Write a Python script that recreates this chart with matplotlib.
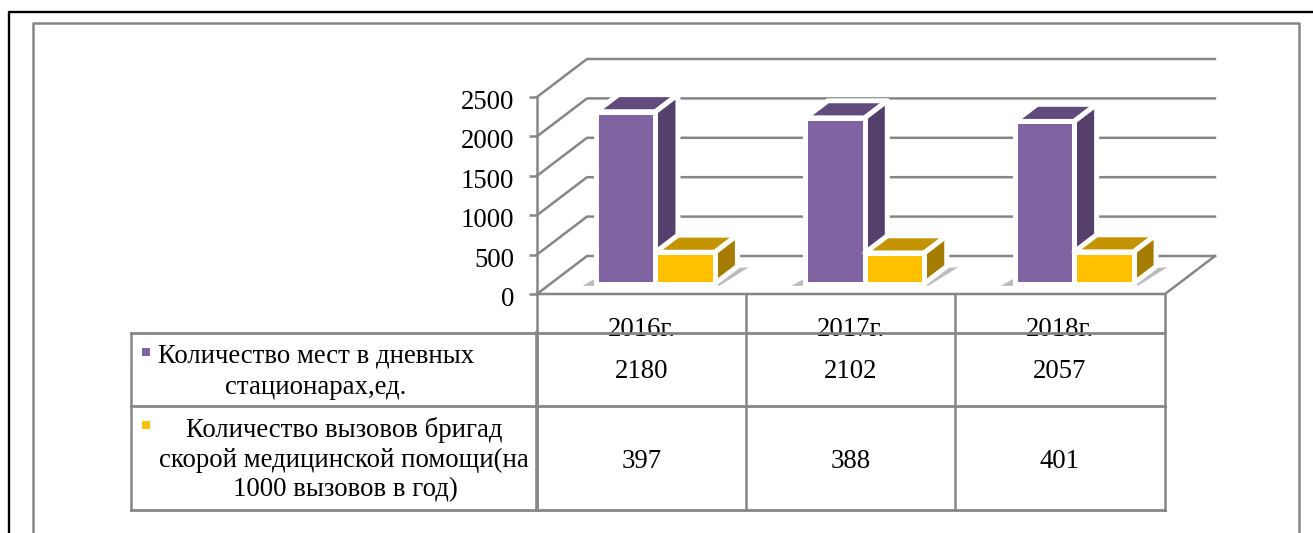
from matplotlib import pyplot as plt
from matplotlib.patches import Polygon
from matplotlib.transforms import ScaledTranslation

plt.rcParams['font.family'] = ['Liberation Serif', 'DejaVu Serif']

years = ['2016г.', '2017г.', '2018г.']
beds = [2180, 2102, 2057]
calls = [397, 388, 401]
yticks = [0, 500, 1000, 1500, 2000, 2500]
beds_label = ['Количество мест в дневных', 'стационарах,ед.']
calls_label = ['Количество вызовов бригад', 'скорой медицинской помощи(на', '1000 вызовов в год)']

W, H = 1313, 533
GRAY = '#868686'
FS = 19.3

fig = plt.figure(figsize=(W / 100, H / 100), dpi=100)

# pixel layer for the frame and the table
bg = fig.add_axes([0, 0, 1, 1])
bg.set_xlim(0, W)
bg.set_ylim(H, 0)
bg.axis('off')

# frames
bg.plot([9, 9, W], [H, 12, 12], color='black', lw=1.7)
bg.plot([33, 33, 1299, 1299], [H, 23, 23, H], color=GRAY, lw=1.8)

# chart axes: front plane of the 3d box
ax = fig.add_axes([537 / W, 1 - 294 / H, 628 / W, 197 / H])
ax.set_xlim(0, 3)
ax.set_ylim(0, 2500)
ax.patch.set_alpha(0)
for s in ax.spines.values():
    s.set_visible(False)

# depth of the box in data units
DX = 50 / (628 / 3)
DY = 38 / (197 / 2500)

for v in yticks:
    ax.plot([0, DX, 3 + DX], [v, v + DY, v + DY], color=GRAY, lw=1.8, clip_on=False, zorder=1)
ax.plot([0, 0], [0, 2500], color=GRAY, lw=1.8, clip_on=False, zorder=1)
ax.plot([0, 3, 3 + DX], [0, 0, DY], color=GRAY, lw=1.8, clip_on=False, zorder=1)

ax.set_xticks([])
ax.set_yticks(yticks)
ax.set_yticklabels([str(v) for v in yticks], fontsize=FS)
ax.tick_params(axis='y', length=5.5, width=1.8, color=GRAY, pad=11)
for lab in ax.get_yticklabels():
    lab.set_transform(lab.get_transform() + ScaledTranslation(0, -2.5 / 100, fig.dpi_scale_trans))

BAR_W = 0.284
START = 0.276
DEPTH = 0.45
EDGE = 3.6


def box(x0, value, front, side, top, z):
    b = START * DY
    x1 = x0 + BAR_W
    t = b + value
    ddx, ddy = DEPTH * DX, DEPTH * DY
    ax.add_patch(Polygon([(x0, t), (x1, t), (x1 + ddx, t + ddy), (x0 + ddx, t + ddy)], closed=True,
                         facecolor=top, edgecolor='white', lw=EDGE, joinstyle='round', clip_on=False, zorder=z))
    ax.add_patch(Polygon([(x1, b), (x1 + ddx, b + ddy), (x1 + ddx, t + ddy), (x1, t)], closed=True,
                         facecolor=side, edgecolor='white', lw=EDGE, joinstyle='round', clip_on=False, zorder=z))
    ax.bar(x0, value, BAR_W, bottom=b, align='edge', color=front, edgecolor='white', lw=EDGE,
           clip_on=False, zorder=z + 0.1)


for i in range(len(years)):
    x0 = i + 0.5 + START * DX - BAR_W
    b = START * DY
    # soft shadow under the pair of bars
    ax.add_patch(Polygon([(x0 - 0.065, b - 30), (x0 + 2 * BAR_W + 0.02, b - 30),
                          (x0 + 2 * BAR_W + DEPTH * DX + 0.055, b + DEPTH * DY - 10), (x0, b + 70)],
                         closed=True, facecolor='#bcbcbc', edgecolor='none', clip_on=False, zorder=2))
    box(x0, beds[i], '#8064A2', '#54406A', '#614A7C', 3 + i)
    box(x0 + BAR_W, calls[i], '#FFC000', '#A67C00', '#C49400', 3.5 + i)

# table
cols = [537, 746, 955, 1165]
for i, name in enumerate(years):
    bg.text((cols[i] + cols[i + 1]) / 2, 336, name, ha='center', va='baseline', fontsize=FS, zorder=1)
    bg.text((cols[i] + cols[i + 1]) / 2, 372, str(beds[i]), ha='center', va='center', fontsize=FS)
    bg.text((cols[i] + cols[i + 1]) / 2, 461, str(calls[i]), ha='center', va='center', fontsize=FS)

for x in cols:
    bg.plot([x, x], [295, 510], color=GRAY, lw=1.8, zorder=2)
bg.plot([131, 131], [333, 510], color=GRAY, lw=1.8, zorder=2)
bg.plot([537, 537], [333, 510], color=GRAY, lw=2.6, zorder=2)
for y in [333, 406, 510]:
    bg.plot([131, 1165], [y, y], color=GRAY, lw=2.0, zorder=2)

bg.plot([146], [352], 's', color='#8064A2', ms=5.5, mew=0)
bg.plot([146], [425], 's', color='#FFC000', ms=5.5, mew=0)

for txt, x, y in zip(beds_label, [316, 316], [356, 387]):
    bg.text(x, y, txt, ha='center', va='center', fontsize=FS)
for txt, x, y in zip(calls_label, [344, 344, 345], [430, 460, 490]):
    bg.text(x, y, txt, ha='center', va='center', fontsize=FS)

fig.savefig('out.png', dpi=100)
